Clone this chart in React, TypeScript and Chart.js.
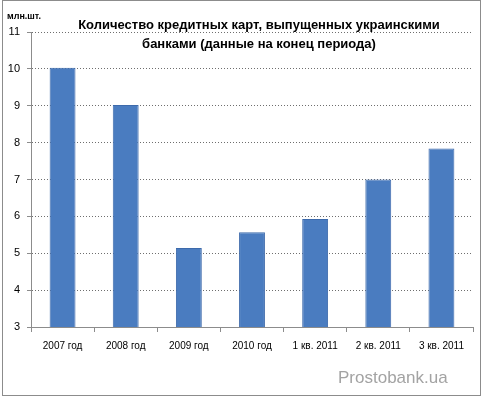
import React, { useEffect, useRef } from "react";
import { Chart, registerables } from "chart.js";

Chart.register(...registerables);

const categories = ["2007 год", "2008 год", "2009 год", "2010 год", "1 кв. 2011", "2 кв. 2011", "3 кв. 2011"];
const cardValues = [10.03, 9.02, 5.14, 5.57, 5.93, 7.0, 7.84];
const titleLines = ["Количество кредитных карт, выпущенных украинскими", "банками (данные на конец периода)"];
const unitLabel = "млн.шт.";
const watermark = "Prostobank.ua";
const yMin = 3;
const yMax = 11;

const FONT = "'Liberation Sans', 'DejaVu Sans', sans-serif";

const decorPlugin = {
  id: "decor",
  afterDraw(chart: any) {
    const ctx = chart.ctx as CanvasRenderingContext2D;
    ctx.save();
    ctx.strokeStyle = "#8c8c8c";
    ctx.lineWidth = 1;
    ctx.strokeRect(2.5, 0.5, 478, 395);
    ctx.fillStyle = "#000";
    ctx.textAlign = "center";
    ctx.textBaseline = "middle";
    ctx.font = `bold 13px ${FONT}`;
    ctx.fillText(titleLines[0], 259, 25);
    ctx.fillText(titleLines[1], 259, 44);
    ctx.textAlign = "left";
    ctx.font = `bold 9px ${FONT}`;
    ctx.fillText(unitLabel, 7, 17);
    ctx.font = `17px ${FONT}`;
    ctx.fillStyle = "#a3a3a3";
    ctx.fillText(watermark, 338, 378);
    ctx.restore();
  },
};

export default function App() {
  const ref = useRef<HTMLCanvasElement>(null);
  useEffect(() => {
    document.body.style.margin = "0";
    const chart = new Chart(ref.current!, {
      type: "bar",
      data: {
        labels: categories,
        datasets: [
          {
            data: cardValues,
            backgroundColor: "#4a7cc0",
            borderColor: "#3d6aab",
            borderWidth: 1,
            categoryPercentage: 1,
            barPercentage: 0.41,
          },
        ],
      },
      options: {
        animation: false,
        responsive: false,
        devicePixelRatio: 1,
        layout: { padding: { left: 0, right: 10, top: 32, bottom: 0 } },
        plugins: { legend: { display: false }, tooltip: { enabled: false }, title: { display: false } },
        scales: {
          x: {
            grid: {
              offset: true,
              drawOnChartArea: false,
              drawTicks: true,
              tickLength: 5,
              tickColor: "#8c8c8c",
            },
            border: { color: "#8c8c8c", width: 1 },
            ticks: { color: "#000", font: { family: FONT, size: 10 }, padding: 8, maxRotation: 0, autoSkip: false },
            afterFit(scale: any) {
              scale.height = 398 - 327;
            },
          },
          y: {
            min: yMin,
            max: yMax,
            ticks: { stepSize: 1, color: "#000", font: { family: FONT, size: 11 }, padding: 7 },
            grid: {
              color: "#6e6e6e",
              tickColor: "#8c8c8c",
              tickLength: 4,
              tickBorderDash: [],
            },
            border: { color: "#8c8c8c", width: 1, dash: [1, 2] },
            afterFit(scale: any) {
              scale.width = 31;
            },
          },
        },
      },
      plugins: [decorPlugin],
    });
    return () => chart.destroy();
  }, []);
  return <canvas ref={ref} width={483} height={398} style={{ display: "block" }} />;
}
